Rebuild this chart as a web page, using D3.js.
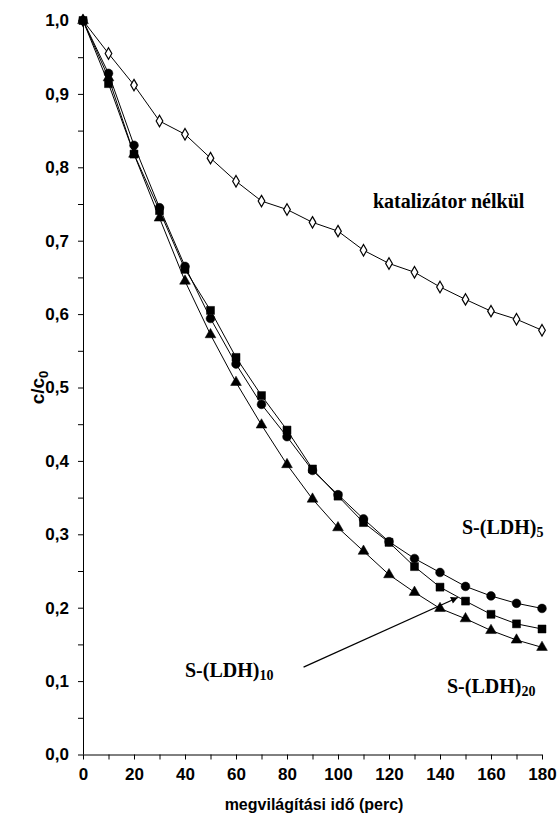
<!DOCTYPE html>
<html lang="hu">
<head>
<meta charset="utf-8">
<title>c/c0</title>
<script src="https://d3js.org/d3.v7.min.js"></script>
<style>
  body { margin: 0; background: #fff; }
  .tick text { font-family: Arial, "Liberation Sans", sans-serif; font-weight: bold; font-size: 17px; }
  .lbl { font-family: "Times New Roman", "Liberation Serif", serif; font-weight: bold; font-size: 20px; }
</style>
</head>
<body>
<div id="chart"></div>
<script>
// time points (perc)
const times = [0,10,20,30,40,50,60,70,80,90,100,110,120,130,140,150,160,170,180];
const noCat = [1.0,0.955,0.912,0.863,0.845,0.8125,0.781,0.754,0.7425,0.725,0.713,0.687,0.669,0.657,0.637,0.620,0.604,0.593,0.578];
const ldh5  = [1.0,0.928,0.830,0.745,0.665,0.594,0.532,0.477,0.433,0.387,0.354,0.321,0.290,0.267,0.248,0.229,0.216,0.206,0.199];
const ldh10 = [1.0,0.914,0.818,0.741,0.661,0.605,0.541,0.489,0.442,0.389,0.352,0.316,0.289,0.256,0.228,0.209,0.191,0.178,0.171];
const ldh20 = [1.0,0.922,0.818,0.731,0.645,0.572,0.507,0.449,0.395,0.348,0.309,0.277,0.245,0.221,0.199,0.185,0.169,0.156,0.146];
const yTicks = [0,0.1,0.2,0.3,0.4,0.5,0.6,0.7,0.8,0.9,1.0];
const xTicks = [0,20,40,60,80,100,120,140,160,180];

const W = 559, H = 827;
const margin = {top: 20.5, right: 17, bottom: 72.5, left: 83};
const width = W - margin.left - margin.right,
      height = H - margin.top - margin.bottom;

const svg = d3.select("#chart").append("svg")
  .attr("width", W).attr("height", H);
const g = svg.append("g")
  .attr("transform", `translate(${margin.left},${margin.top})`);

const x = d3.scaleLinear().domain([0,180]).range([0,width]);
const y = d3.scaleLinear().domain([0,1]).range([height,0]);
const fmt = d => d3.format(".1f")(d).replace(".", ",");

// y axis (major + minor ticks)
const yAx = g.append("g")
  .call(d3.axisLeft(y).tickValues(d3.range(0,1.0001,0.05)).tickSize(5)
    .tickFormat(d => yTicks.some(t => Math.abs(t-d) < 1e-6) ? fmt(d) : ""));
yAx.select(".domain").attr("d", `M0.5,${height}V0`);
yAx.selectAll(".tick text").attr("x", -14);

// x axis
const xAx = g.append("g").attr("transform", `translate(0,${height})`)
  .call(d3.axisBottom(x).tickValues(d3.range(0,181,10)).tickSize(5)
    .tickFormat(d => xTicks.includes(d) ? d : ""));
xAx.select(".domain").attr("d", `M0,0.5H${width}`);
xAx.selectAll(".tick text").attr("y", 13);

// axis titles
svg.append("text")
  .attr("x", 314).attr("y", 810)
  .attr("text-anchor", "middle")
  .style("font-family", "Arial, 'Liberation Sans', sans-serif")
  .style("font-weight", "bold").style("font-size", "16px")
  .text("megvilágítási idő (perc)");

const yt = svg.append("text")
  .attr("transform", `translate(44,${margin.top + height/2}) rotate(-90)`)
  .attr("text-anchor", "middle")
  .style("font-family", "Arial, 'Liberation Sans', sans-serif")
  .style("font-weight", "bold").style("font-size", "19px");
yt.append("tspan").text("c/c");
yt.append("tspan").attr("dy", 4).style("font-size", "13px").text("0");

// lines
const line = d3.line().x(d => x(d[0])).y(d => y(d[1]));
const series = [
  {vals: noCat, sym: d3.symbolDiamond, size: 38, fill: "#fff"},
  {vals: ldh10, sym: d3.symbolSquare, size: 64, fill: "#000"},
  {vals: ldh5,  sym: d3.symbolCircle, size: 60, fill: "#000"},
  {vals: ldh20, sym: d3.symbolTriangle, size: 50, fill: "#000"}
];
series.forEach(s => {
  const pts = times.map((t,i) => [t, s.vals[i]]);
  g.append("path").datum(pts)
    .attr("d", line).attr("fill", "none")
    .attr("stroke", "#000").attr("stroke-width", 1);
  g.append("g").selectAll("path").data(pts).join("path")
    .attr("transform", d => `translate(${x(d[0])},${y(d[1])})`)
    .attr("d", d3.symbol().type(s.sym).size(s.size))
    .attr("fill", s.fill).attr("stroke", "#000")
    .attr("stroke-width", s.fill === "#fff" ? 1.2 : 0.5);
});

// arrow pointing to S-(LDH)10
svg.append("defs").append("marker")
  .attr("id", "ah").attr("viewBox", "0 0 10 10")
  .attr("refX", 10).attr("refY", 5)
  .attr("markerWidth", 10).attr("markerHeight", 7)
  .attr("markerUnits", "userSpaceOnUse").attr("orient", "auto")
  .append("path").attr("d", "M0,0L10,5L0,10Z").attr("fill", "#000");
g.append("line")
  .attr("x1", x(86.5)).attr("y1", y(0.119))
  .attr("x2", x(147)).attr("y2", y(0.214))
  .attr("stroke", "#000").attr("stroke-width", 1.2)
  .attr("marker-end", "url(#ah)");

// labels
function label(px, py, main, sub) {
  const t = svg.append("text").attr("class", "lbl")
    .attr("x", px).attr("y", py);
  t.append("tspan").text(main);
  if (sub) t.append("tspan").attr("dy", 3).style("font-size", "14px").text(sub);
}
label(373, 208, "katalizátor nélkül");
label(462, 534, "S-(LDH)", "5");
label(185, 677, "S-(LDH)", "10");
label(447, 693, "S-(LDH)", "20");
</script>
</body>
</html>
